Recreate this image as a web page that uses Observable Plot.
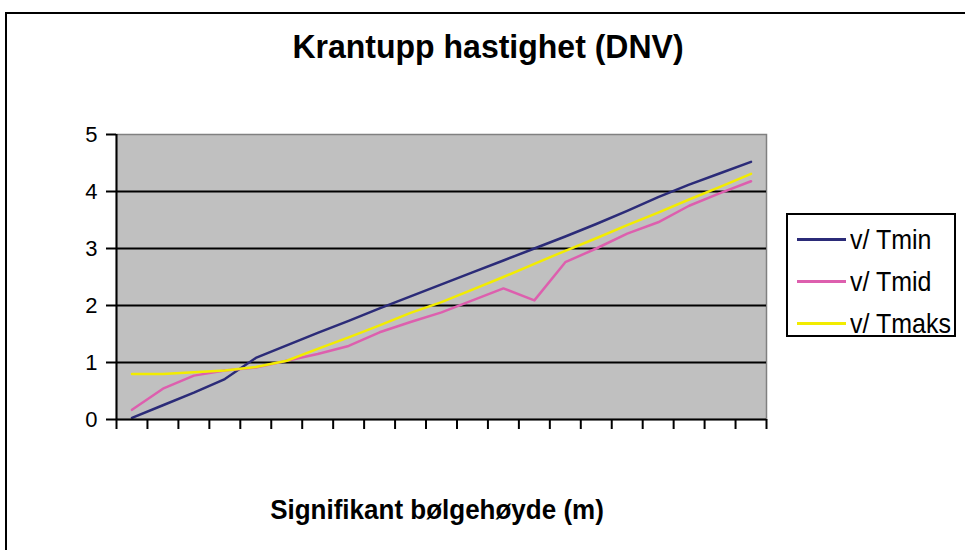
<!DOCTYPE html>
<html>
<head>
<meta charset="utf-8">
<script src="https://cdn.jsdelivr.net/npm/d3@7"></script>
<script src="https://cdn.jsdelivr.net/npm/@observablehq/plot@0.6"></script>
<style>
  html, body { margin: 0; padding: 0; background: #fff; overflow: hidden; width: 965px; height: 550px; }
  #wrap { position: relative; width: 965px; height: 550px; font-family: "Liberation Sans", Arial, sans-serif; }
  #border { position: absolute; left: 5px; top: 12px; width: 1000px; height: 600px; border: 2px solid #000; box-sizing: border-box; }
  #title { position: absolute; left: 0; width: 976px; top: 28px; text-align: center; font-weight: bold; font-size: 32px; line-height: 37px; transform: scaleY(1.05); }
  #xlabel { position: absolute; left: 0; width: 874px; top: 494px; text-align: center; font-weight: bold; font-size: 26px; line-height: 30px; transform: scaleY(1.08); }
  #chart { position: absolute; left: 0; top: 0; }
  #legend { position: absolute; left: 786px; top: 213px; width: 170px; height: 124px; border: 2px solid #000; box-sizing: border-box; background: #fff; font-size: 25px; }
  .item { position: absolute; left: 9px; height: 30px; display: flex; align-items: center; white-space: nowrap; }
  .sw { display: inline-block; width: 49px; height: 3px; margin-right: 4px; }
  .lbl { display: inline-block; transform: scaleY(1.12); }
</style>
</head>
<body>
<div id="wrap">
  <div id="border"></div>
  <div id="chart"></div>
  <div id="title">Krantupp hastighet (DNV)</div>
  <div id="xlabel">Signifikant bølgehøyde (m)</div>
  <div id="legend"></div>
</div>
<script>
const categories = d3.range(1, 22);
const seriesNames = ["v/ Tmin", "v/ Tmid", "v/ Tmaks"];
const seriesColors = ["#2b2b78", "#dd5fae", "#f2ec00"];
const tmin  = [0.03, 0.25, 0.47, 0.71, 1.08, 1.30, 1.52, 1.73, 1.95, 2.16, 2.37, 2.58, 2.79, 3.00, 3.21, 3.43, 3.66, 3.90, 4.12, 4.32, 4.52];
const tmid  = [0.17, 0.54, 0.77, 0.86, 0.91, 1.03, 1.15, 1.29, 1.53, 1.71, 1.88, 2.09, 2.30, 2.09, 2.76, 3.00, 3.26, 3.46, 3.75, 3.97, 4.18];
const tmaks = [0.80, 0.80, 0.83, 0.86, 0.92, 1.03, 1.24, 1.44, 1.65, 1.87, 2.06, 2.28, 2.50, 2.73, 2.96, 3.18, 3.41, 3.63, 3.86, 4.08, 4.31];
const yTicks = [0, 1, 2, 3, 4, 5];
const gridValues = [1, 2, 3, 4];

const seriesValues = [tmin, tmid, tmaks];
const rows = [];
seriesNames.forEach((s, i) => categories.forEach((c, j) => rows.push({cat: c, value: seriesValues[i][j], series: s})));
const boundaries = d3.range(0.5, categories.length + 1, 1);

const chart = Plot.plot({
  width: 965,
  height: 550,
  marginLeft: 116,
  marginRight: 199,
  marginTop: 134,
  marginBottom: 131,
  style: {fontFamily: "'Liberation Sans', Arial, sans-serif", fontSize: "22px", background: "transparent", overflow: "visible"},
  x: {domain: [0.5, categories.length + 0.5]},
  y: {domain: [0, 5]},
  color: {domain: seriesNames, range: seriesColors},
  marks: [
    Plot.frame({fill: "#c0c0c0", stroke: "#808080", strokeWidth: 1.5}),
    Plot.ruleY(gridValues, {stroke: "#000", strokeWidth: 2}),
    Plot.axisY({ticks: yTicks, tickFormat: d3.format("d"), tickSize: 10, tickPadding: 9, stroke: "#000", strokeWidth: 2, fill: "#000", label: null, fontSize: 22}),
    Plot.axisX({ticks: boundaries, tickSize: 10, tickFormat: () => "", stroke: "#000", strokeWidth: 2, label: null}),
    Plot.line(rows, {x: "cat", y: "value", z: "series", stroke: "series", strokeWidth: 2.5}),
    Plot.ruleX([0.5], {stroke: "#000", strokeWidth: 2}),
    Plot.ruleY([0], {stroke: "#000", strokeWidth: 2})
  ]
});
document.getElementById("chart").appendChild(chart);

const legend = document.getElementById("legend");
seriesNames.forEach((s, i) => {
  const d = document.createElement("div");
  d.className = "item";
  d.style.top = (9 + i * 42) + "px";
  d.innerHTML = `<span class="sw" style="background:${seriesColors[i]}"></span><span class="lbl">${s}</span>`;
  legend.appendChild(d);
});
</script>
</body>
</html>
